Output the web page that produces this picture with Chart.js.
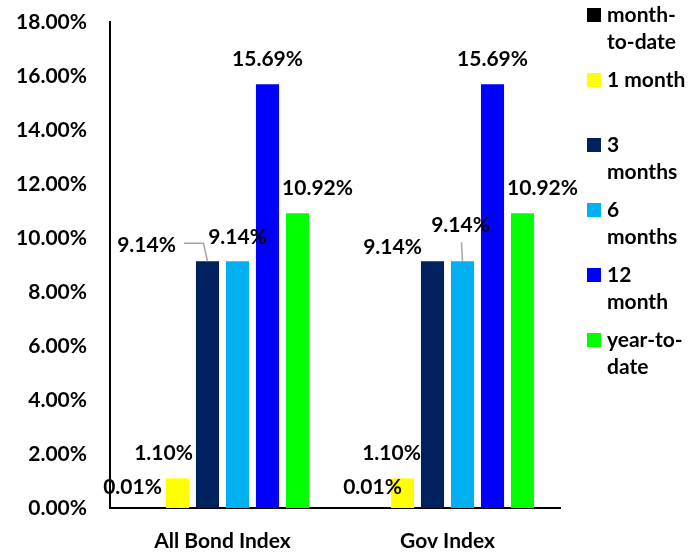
<!DOCTYPE html>
<html>
<head>
<meta charset="utf-8">
<script src="https://cdn.jsdelivr.net/npm/chart.js@4"></script>
<style>
  body { margin: 0; background: #fff; }
  #wrap { position: relative; width: 696px; height: 552px; }
  #legend { position: absolute; left: 587px; top: 0px; font: bold 21px Lato, sans-serif; color: #000; }
  .item { position: relative; height: 65px; }
  .box { position: absolute; left: 0; top: 8px; width: 14px; height: 14px; }
  .txt { position: absolute; left: 20px; top: 0; line-height: 27px; white-space: nowrap; }
</style>
</head>
<body>
<div id="wrap">
  <canvas id="chart" width="696" height="552"></canvas>
  <div id="legend"></div>
</div>
<script>
// data
const categories = ["All Bond Index", "Gov Index"]
const seriesNames = ["month-to-date", "1 month", "3 months", "6 months", "12 month", "year-to-date"]
const monthToDate = [0.01, 0.01]
const oneMonth = [1.10, 1.10]
const threeMonths = [9.14, 9.14]
const sixMonths = [9.14, 9.14]
const twelveMonth = [15.69, 15.69]
const yearToDate = [10.92, 10.92]
const yTicks = [0, 2, 4, 6, 8, 10, 12, 14, 16, 18]

// styles
const colors = ["#000000", "#FFFF00", "#002060", "#00B0F0", "#0000FF", "#00FF00"]
const legendLines = [["month-", "to-date"], ["1 month"], ["3", "months"], ["6", "months"], ["12", "month"], ["year-to-", "date"]]
const font = { family: "Lato, sans-serif", size: 21, weight: "bold" }

// label offsets from bar top [dx, dy], per series per category
const labelOffsets = [
    [[-15, -20], [0, -20]],
    [[-14, -25], [-11, -25]],
    [[-61, -16], [-40, -14]],
    [[0, -24], [-2, -36]],
    [[0, -25], [0, -25]],
    [[20, -25], [20, -25]]
]
// leader lines: series, category, kind
const leaders = [
    { s: 2, c: 0, kind: "elbow" },
    { s: 3, c: 1, kind: "down" }
]

const values = [monthToDate, oneMonth, threeMonths, sixMonths, twelveMonth, yearToDate]

const labelPlugin = {
    id: "barLabels",
    afterDatasetsDraw(chart) {
        const ctx = chart.ctx
        ctx.save()
        ctx.font = "bold " + font.size + "px " + font.family
        ctx.textAlign = "center"
        ctx.textBaseline = "middle"
        const pos = {}
        values.forEach((series, i) => {
            const meta = chart.getDatasetMeta(i)
            meta.data.forEach((bar, j) => {
                const off = labelOffsets[i][j]
                const x = bar.x + off[0]
                const y = bar.y + off[1]
                const txt = series[j].toFixed(2) + "%"
                ctx.fillStyle = "#000"
                ctx.fillText(txt, x, y)
                pos[i + "-" + j] = { x, y, w: ctx.measureText(txt).width, bar }
            })
        })
        ctx.strokeStyle = "#a6a6a6"
        ctx.lineWidth = 1.5
        leaders.forEach(l => {
            const p = pos[l.s + "-" + l.c]
            ctx.beginPath()
            if (l.kind === "elbow") {
                ctx.moveTo(p.x + p.w / 2 + 8, p.y - 2)
                ctx.lineTo(p.bar.x - 4, p.y - 2)
                ctx.lineTo(p.bar.x, p.bar.y)
            } else {
                ctx.moveTo(p.x + 1, p.y + 17)
                ctx.lineTo(p.bar.x, p.bar.y)
            }
            ctx.stroke()
        })
        ctx.restore()
    }
}

new Chart(document.getElementById("chart"), {
    type: "bar",
    data: {
        labels: categories,
        datasets: seriesNames.map((name, i) => ({
            label: name,
            data: values[i],
            backgroundColor: colors[i],
            categoryPercentage: 0.8,
            barPercentage: 0.77
        }))
    },
    options: {
        responsive: false,
        animation: false,
        layout: { padding: { top: 22, right: 136, left: 0, bottom: 0 } },
        plugins: { legend: { display: false }, tooltip: { enabled: false } },
        scales: {
            x: {
                grid: { display: false, drawTicks: false },
                border: { color: "#000", width: 2 },
                ticks: { color: "#000", font: font, padding: 21 },
                afterFit: s => { s.height = 44 }
            },
            y: {
                min: 0,
                max: 18,
                afterBuildTicks: s => { s.ticks = yTicks.map(v => ({ value: v })) },
                grid: { display: false, drawTicks: false },
                border: { color: "#000", width: 2 },
                ticks: { color: "#000", font: font, padding: 23, callback: v => v.toFixed(2) + "%" },
                afterFit: s => { s.width = 110; s.paddingTop = 0; s.paddingBottom = 0 }
            }
        }
    },
    plugins: [labelPlugin]
})

const legend = document.getElementById("legend")
seriesNames.forEach((name, i) => {
    const item = document.createElement("div")
    item.className = "item"
    item.innerHTML = '<div class="box" style="background:' + colors[i] + '"></div>' +
        '<div class="txt">' + legendLines[i].join("<br>") + '</div>'
    legend.appendChild(item)
})
</script>
</body>
</html>
